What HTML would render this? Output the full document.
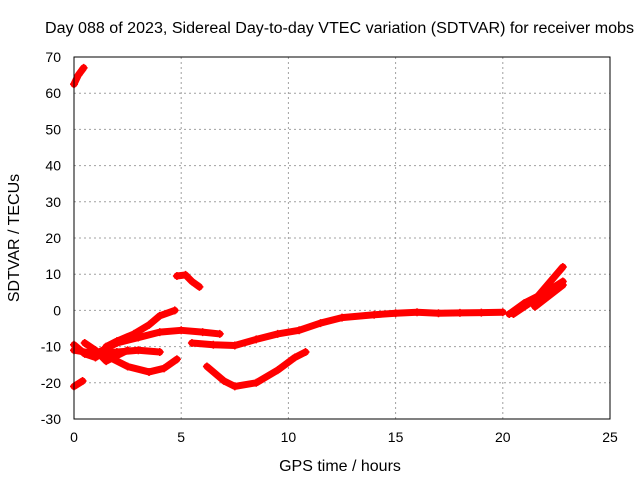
<!DOCTYPE html>
<html><head><meta charset="utf-8"><style>
body{margin:0;background:#fff}
svg{display:block;font-family:"Liberation Sans",sans-serif;font-size:14px}
</style></head><body>
<svg id="c" width="640" height="480">
<rect width="640" height="480" fill="#fff"/>
<text x="45" y="33" textLength="589" lengthAdjust="spacingAndGlyphs" style="font-size:15.5px">Day 088 of 2023, Sidereal Day-to-day VTEC variation (SDTVAR) for receiver mobs</text>
<text x="340" y="471" text-anchor="middle" style="font-size:16px">GPS time / hours</text>
<text transform="translate(19,238) rotate(-90)" text-anchor="middle" style="font-size:16px">SDTVAR / TECUs</text>
<g id="grid"></g><g id="ticks"></g><g id="marks"></g>
<rect x="74" y="57" width="536" height="362" fill="none" stroke="#000"/>
</svg>
<script>
const xTicks=[0,5,10,15,20,25];
const yTicks=[-30,-20,-10,0,10,20,30,40,50,60,70];
const track1=[[0,62.5],[0.2,65],[0.45,67]];
const track2=[[4.8,9.5],[5.2,9.8],[5.5,8],[5.85,6.5]];
const track3=[[1.5,-10],[2,-8.5],[2.8,-6.5],[3.5,-4],[4,-1.5],[4.7,0]];
const track4=[[1,-12],[2,-9],[3,-7.5],[4,-6],[5,-5.5],[6,-6],[6.8,-6.5]];
const track5=[[5.5,-9],[6.5,-9.5],[7.5,-9.7],[8.5,-8],[9.5,-6.5],[10.5,-5.5],[11.5,-3.5],[12.5,-2],[14,-1.2],[15,-0.8],[16,-0.5],[17,-0.8],[18,-0.7],[19,-0.6],[20,-0.5]];
const track6=[[0,-11],[1,-12],[2,-11.5],[3,-11],[4,-11.5]];
const track7=[[1.5,-12.5],[2.5,-15.5],[3.5,-17],[4.2,-16],[4.8,-13.5]];
const track8=[[0,-21],[0.4,-19.5]];
const track9=[[6.2,-15.5],[7,-19.5],[7.5,-21],[8.5,-20],[9.5,-16.5],[10.3,-13],[10.8,-11.5]];
const track10=[[0,-9.5],[0.5,-12],[1,-13],[1.5,-11]];
const track11=[[20.3,-1],[21,2],[22,5],[22.8,8]];
const track12=[[20.5,-1],[21.5,3],[22.8,12]];
const track13=[[21.5,1],[22.8,7]];
const track14=[[0.5,-9],[1,-11],[1.5,-14],[2,-12.5],[2.5,-11]];
const tracks=[track1,track2,track3,track4,track5,track6,track7,track8,track9,track10,track11,track12,track13,track14];
const X=v=>74+v*536/25, Y=v=>419-(v+30)*362/100;
const NS="http://www.w3.org/2000/svg";
function mk(t,a,p){const e=document.createElementNS(NS,t);for(const k in a)e.setAttribute(k,a[k]);p.appendChild(e);return e;}
const g=document.getElementById('grid'),tk=document.getElementById('ticks'),m=document.getElementById('marks');
xTicks.forEach(v=>{
 if(v>0&&v<25){const l=mk('line',{x1:X(v),x2:X(v),y1:57,y2:419,stroke:'#a0a0a0','stroke-dasharray':'2,3'},g);
 
 }
 const t=mk('text',{x:X(v),y:442,'text-anchor':'middle'},tk);t.textContent=v;
 
 
});
yTicks.forEach(v=>{
 if(v>-30&&v<70){const l=mk('line',{x1:74,x2:610,y1:Y(v),y2:Y(v),stroke:'#a0a0a0','stroke-dasharray':'2,3'},g);
 
 }
 const t=mk('text',{x:61,y:Y(v)+5,'text-anchor':'end'},tk);t.textContent=v;
 
 
});
tracks.forEach((tr,i)=>{
 const p=mk('polyline',{points:tr.map(d=>X(d[0])+','+Y(d[1])).join(' '),fill:'none',stroke:'#f00','stroke-width':7,'stroke-linejoin':'round','stroke-linecap':'round'},m);
 
 
 tr.forEach(d=>{
  const c=mk('path',{d:`M${X(d[0])-4},${Y(d[1])}h8M${X(d[0])},${Y(d[1])-4}v8`,stroke:'#f00','stroke-width':1.5},m);
  
  
 });
});
</script>
</body></html>
